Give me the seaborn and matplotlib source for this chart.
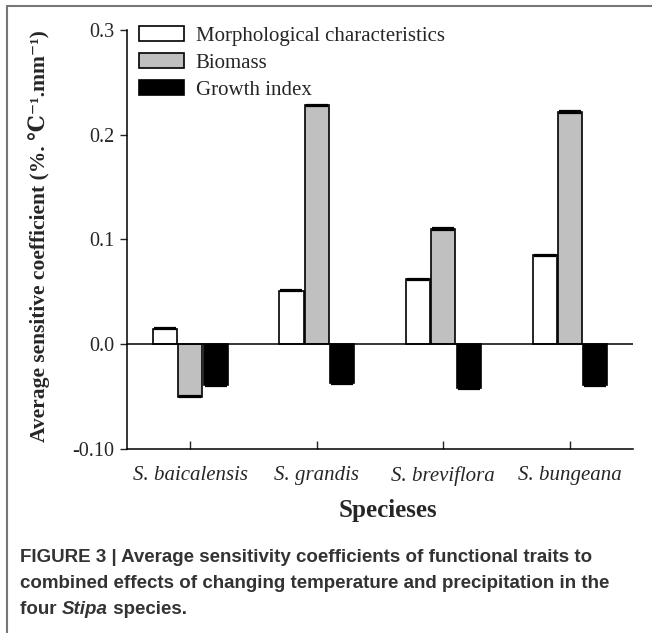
import numpy as np
import pandas as pd
import matplotlib.pyplot as plt
import seaborn as sns
from matplotlib.lines import Line2D

# data
species = ['S. baicalensis', 'S. grandis', 'S. breviflora', 'S. bungeana']
traits = ['Morphological characteristics', 'Biomass', 'Growth index']
morph = [0.015, 0.051, 0.062, 0.085]
biomass = [-0.050, 0.228, 0.110, 0.222]
growth = [-0.039, -0.037, -0.042, -0.039]
err_morph = [0.0004, 0.0004, 0.0004, 0.0004]
err_biomass = [0.0006, 0.0006, 0.0006, 0.0010]
err_growth = [0.0006, 0.0006, 0.0008, 0.0008]

df = pd.DataFrame({
    'Species': species * 3,
    'Trait': np.repeat(traits, len(species)),
    'Value': morph + biomass + growth,
})

sns.set_style('ticks')
plt.rcParams['font.family'] = ['Liberation Serif', 'DejaVu Serif', 'Noto Sans CJK SC']

fig = plt.figure(figsize=(6.52, 6.33), dpi=100)
ax = fig.add_axes([0.1948, 0.2907, 0.7762, 0.6619])

sns.barplot(data=df, x='Species', y='Value', hue='Trait',
            palette=['white', '#c0c0c0', 'black'], saturation=1,
            edgecolor='black', linewidth=1.2, width=0.6, gap=0.05,
            errorbar=None, ax=ax)

# tiny error bars on the bar ends
for cont, errs in zip(ax.containers, [err_morph, err_biomass, err_growth]):
    for bar, e in zip(cont, errs):
        xc = bar.get_x() + bar.get_width() / 2
        ax.errorbar(xc, bar.get_y() + bar.get_height(), yerr=e, color='black',
                    lw=1, capsize=8, capthick=1.6, zorder=5)

ax.axhline(0, color='black', lw=1.1, zorder=4)
ax.set_xlim(-0.5, 3.5)
ax.set_ylim(-0.10, 0.30)
ax.set_yticks([-0.10, 0.0, 0.1, 0.2, 0.3])
ax.set_yticklabels(['-0.10', '0.0', '0.1', '0.2', '0.3'], fontsize=14.5)
ax.set_xticks(range(len(species)))
ax.set_xticklabels(species, fontsize=15, fontstyle='italic')
ax.tick_params(axis='y', direction='out', length=5, width=1, pad=4)
ax.tick_params(axis='x', direction='in', length=6, width=1, pad=12)
sns.despine(ax=ax)
for s in ['left', 'bottom']:
    ax.spines[s].set_linewidth(1.1)
    ax.spines[s].set_color('black')

ax.set_xlabel('Specieses', fontsize=18, fontweight='bold')
ax.xaxis.set_label_coords(0.516, -0.120)
ax.set_ylabel('Average sensitive coefficient (%. \u2103\u207b\u00b9.mm\u207b\u00b9)',
              fontsize=15.5, fontweight='bold')
ax.yaxis.set_label_coords(-0.152, 0.508)

handles, labels = ax.get_legend_handles_labels()
for h in handles:
    h.set_edgecolor('black')
    h.set_linewidth(1.2)
ax.legend(handles, labels, loc='upper left', bbox_to_anchor=(-0.006, 1.045),
          frameon=False, fontsize=15, handlelength=2.2, handleheight=0.75,
          handletextpad=0.55, labelspacing=0.35, borderaxespad=0.3)

# caption
cap_kw = dict(fontsize=13.5, fontweight='bold', color='#333333',
              family=['Liberation Sans', 'DejaVu Sans'])
fig.text(0.031, 1 - 558 / 633, 'FIGURE 3 | Average sensitivity coefficients of functional traits to',
         va='center', **cap_kw)
fig.text(0.031, 1 - 584 / 633, 'combined effects of changing temperature and precipitation in the',
         va='center', **cap_kw)
t1 = fig.text(0.031, 1 - 610 / 633, 'four ', va='center', **cap_kw)
t2 = ax.annotate('Stipa', xy=(1, 0.5), xycoords=t1, va='center', ha='left',
                 fontstyle='italic', annotation_clip=False, **cap_kw)
ax.annotate(' species.', xy=(1, 0.5), xycoords=t2, va='center',
            ha='left', annotation_clip=False, **cap_kw)

# frame around figure + caption
fig.add_artist(Line2D([7 / 652, 7 / 652], [0, 1 - 6 / 633], transform=fig.transFigure,
                      color='#777777', lw=1.5))
fig.add_artist(Line2D([7 / 652, 1], [1 - 6 / 633, 1 - 6 / 633], transform=fig.transFigure,
                      color='#777777', lw=1.5))

fig.savefig('out.png', dpi=100)
